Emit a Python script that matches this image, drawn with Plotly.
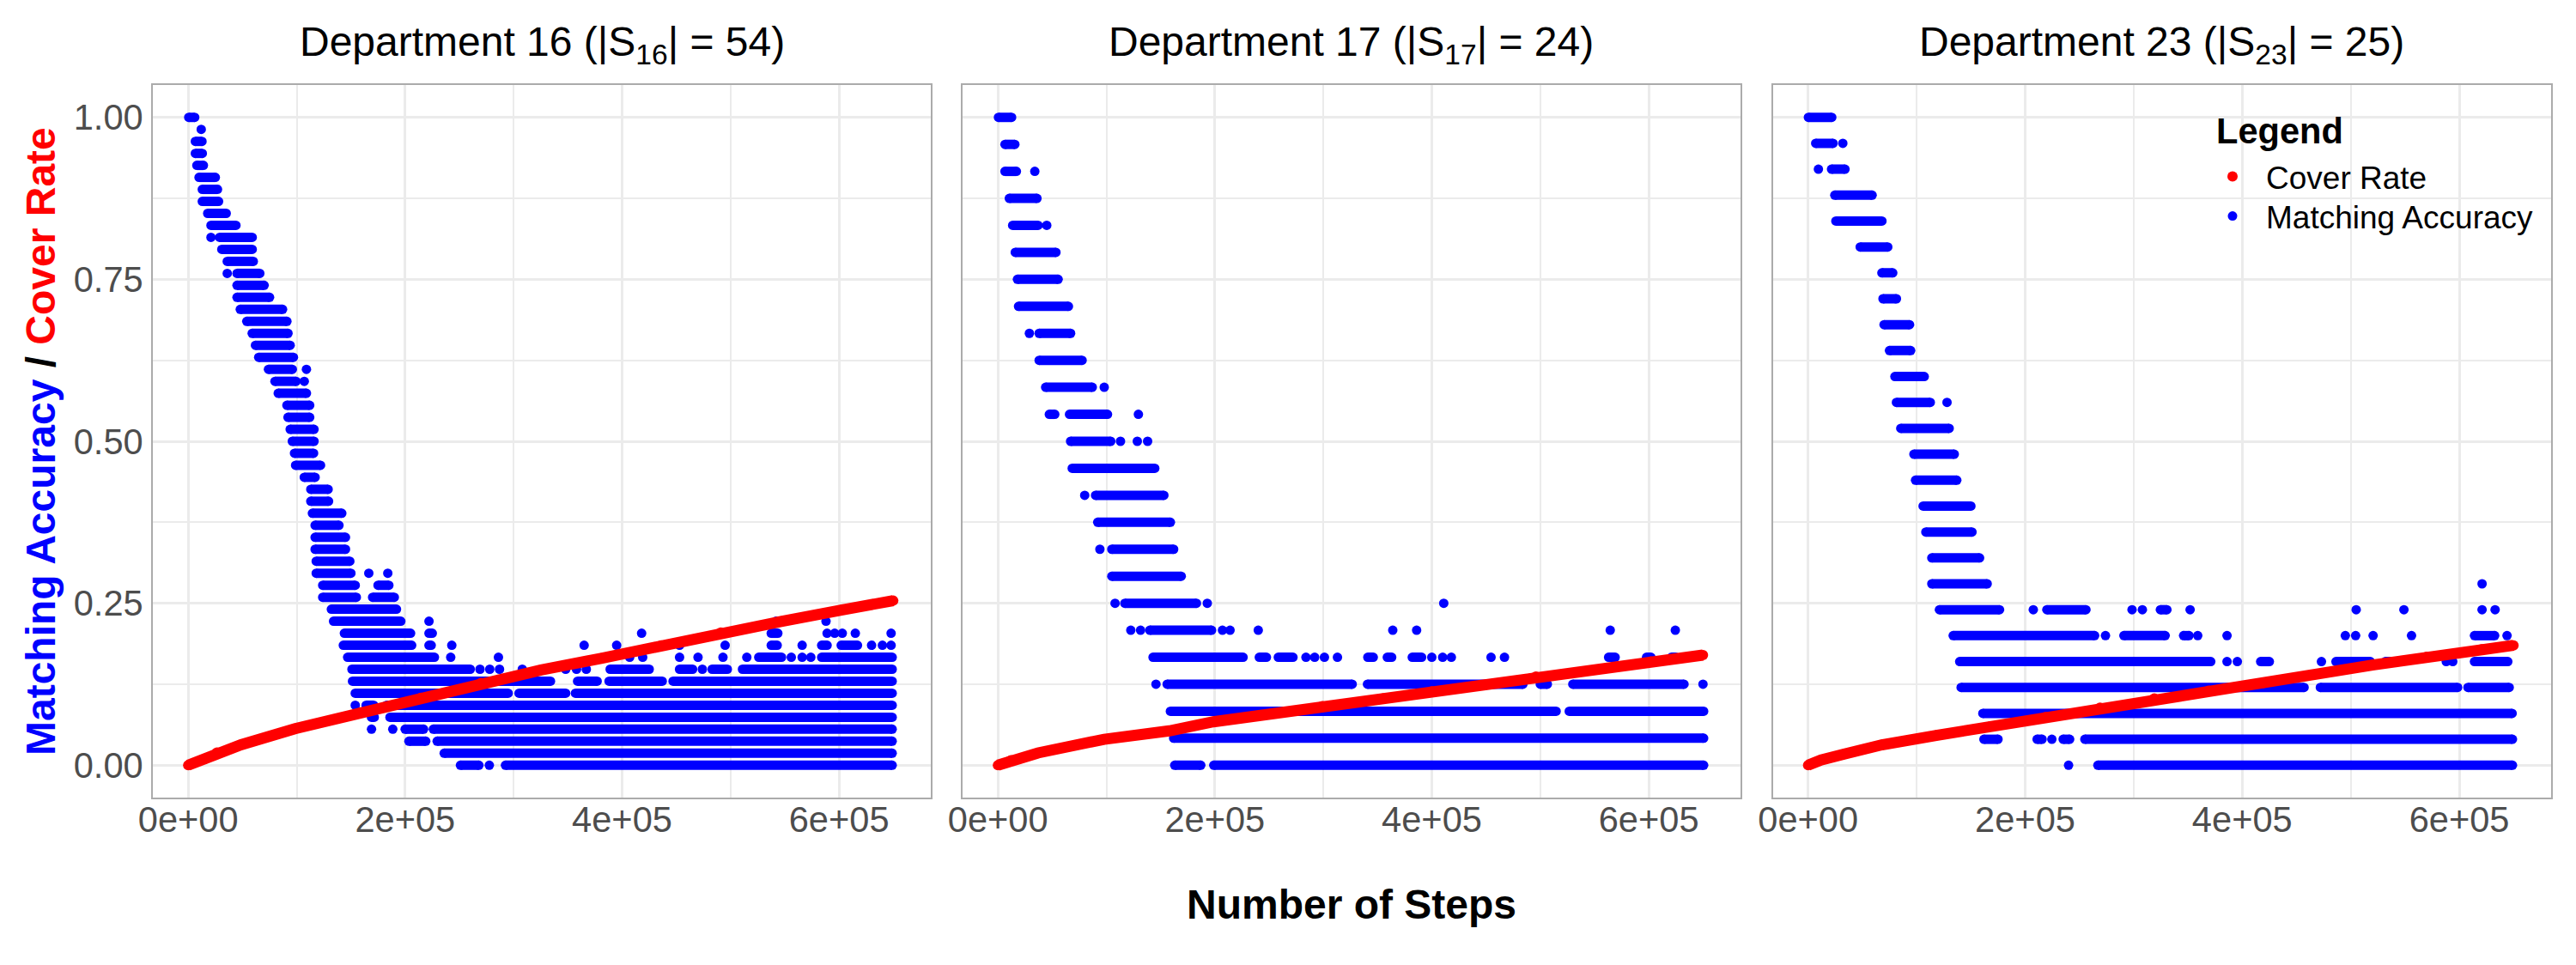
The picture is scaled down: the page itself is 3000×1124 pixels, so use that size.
import plotly.graph_objects as go

# Observed steps are given in thousands. Each row: (correct matches, [runs]),
# a run being (first_x, last_x) of a continuous band or (x,) of an isolated point.
dept16_size = 54
dept16_runs = [
    (54, [(0.5, 6)]), (53, [(12,)]), (52, [(6.6, 12.7)]), (51, [(6.6, 13)]), (50, [(8, 14)]),
    (49, [(10, 25)]), (48, [(13, 27)]), (47, [(13, 28)]), (46, [(18, 35)]), (45, [(21, 44)]),
    (44, [(21,), (29, 59)]), (43, [(31, 59)]), (42, [(36, 60)]), (41, [(36,), (45, 66)]),
    (40, [(45, 70)]), (39, [(45, 75)]), (38, [(48, 87)]), (37, [(54, 91)]), (36, [(59, 92)]),
    (35, [(62, 94)]), (34, [(65, 97)]), (33, [(74, 96), (109,)]), (32, [(80, 99.5), (107,)]),
    (31, [(83, 109)]), (30, [(91, 112)]), (29, [(92, 112)]), (28, [(94, 116)]), (27, [(96, 116)]),
    (26, [(98, 115.6)]), (25, [(99, 122)]), (24, [(107, 117)]), (23, [(113, 129)]),
    (22, [(113, 129.4)]), (21, [(114.5, 141.6)]), (20, [(117, 139)]), (19, [(117, 145)]),
    (18, [(117, 145)]), (17, [(118, 149)]), (16, [(118, 150), (166.5,), (184,)]),
    (15, [(124, 154), (175, 185)]), (14, [(124, 155), (170, 190)]), (13, [(132, 192)]),
    (12, [(134, 196), (222,), (542,), (588,)]),
    (11, [(144, 205), (222, 225), (418,), (537.5, 543.6), (589,), (596,), (603,), (615,), (648,)]),
    (10, [(143, 206), (222, 224), (243,), (365,), (395,), (453,), (495,), (537.5, 543), (566,),
          (584, 589), (602, 617), (630,), (640,), (648,)]),
    (9, [(147, 227), (242,), (286,), (407,), (419,), (453,), (470,), (493,), (515,), (526, 547),
         (556,), (566,), (574,), (584, 649)]),
    (8, [(151, 260), (269,), (278,), (287,), (308,), (348,), (358,), (367,), (389, 425), (453, 465),
         (474,), (483, 497), (511, 649)]),
    (7, [(151.5, 334), (359, 377), (388, 437), (447, 649)]),
    (6, [(154, 295), (305, 348), (357, 649)]),
    (5, [(154,), (164, 171), (183, 649)]),
    (4, [(169, 171.5), (186, 649)]),
    (3, [(169,), (188.6,), (200, 217), (226, 649)]),
    (2, [(203.5, 219), (229.5, 649)]),
    (1, [(236, 649)]),
    (0, [(251, 268), (277.6,), (292.5, 649)]),
]
dept16_cover_x = [0, 15.5, 26.5, 48.7, 98.5, 159, 214.6, 270, 325.3, 380.6, 436, 491, 546.6, 602, 650]
dept16_cover_y = [0, 0.010, 0.0196, 0.0315, 0.0563, 0.0816, 0.104, 0.127, 0.147, 0.165, 0.185, 0.2047, 0.222, 0.2395, 0.254]

dept17_size = 24
dept17_runs = [
    (24, [(0.5, 12.6)]), (23, [(6.5, 15.6)]), (22, [(6.5, 17), (34,)]), (21, [(10.5, 36)]),
    (20, [(13.6, 37), (45,)]), (19, [(16, 53.5)]), (18, [(18, 55.5)]), (17, [(19, 65)]),
    (16, [(29,), (38, 67)]), (15, [(38, 77.6)]), (14, [(44, 87), (98,)]),
    (13, [(47.4, 52.4), (66, 101), (129.5,)]), (12, [(67, 104), (113,), (128.5,), (138,)]),
    (11, [(68.5, 144.6)]), (10, [(80,), (90, 153)]), (9, [(92, 159)]), (8, [(94,), (105, 162)]),
    (7, [(105, 169)]), (6, [(108,), (117, 183), (193,), (411,)]),
    (5, [(122.5,), (131.5,), (140, 197), (207,), (214,), (240,), (364,), (386,), (564.5,), (624.5,)]),
    (4, [(143, 226), (241, 247.5), (258.5, 272), (284,), (292,), (301,), (313,), (341, 346), (359, 363),
         (382, 390.6), (400,), (410,), (418,), (454.6,), (467,), (563, 569), (598, 602), (621, 625)]),
    (3, [(145.7,), (156, 326.6), (340.7, 484), (500, 506.5), (530, 632.5), (650,)]),
    (2, [(159, 514.6), (526.7, 650.6)]),
    (1, [(162, 650.6)]),
    (0, [(163, 187), (199, 650.6)]),
]
dept17_cover_x = [0, 12, 37, 98, 158, 198.6, 239, 299, 355, 400, 450.6, 496, 546, 602, 650]
dept17_cover_y = [0, 0.0075, 0.019, 0.040, 0.053, 0.067, 0.076, 0.091, 0.103, 0.114, 0.1247, 0.137, 0.146, 0.16, 0.17]

dept23_size = 25
dept23_runs = [
    (25, [(0.3, 21.8)]), (24, [(7, 23), (32,)]), (23, [(9.5,), (21.6, 34)]), (22, [(24.6, 59)]),
    (21, [(25.6, 68)]), (20, [(48, 73.4)]), (19, [(68, 78)]), (18, [(69, 81.4)]), (17, [(70, 93.5)]),
    (16, [(75, 94.5)]), (15, [(80, 107)]), (14, [(81.4, 112.6), (128,)]), (13, [(85.4, 130)]),
    (12, [(97.5, 134.7)]), (11, [(99, 137)]), (10, [(106, 150)]), (9, [(108.5, 151)]),
    (8, [(114, 158)]), (7, [(114, 165), (621,)]),
    (6, [(121, 176.4), (207.5,), (220, 256), (298.5,), (308,), (324.6, 330.6), (352,), (505,), (549,),
         (621,), (633,)]),
    (5, [(133.7, 264), (274,), (291, 329), (346, 351), (359,), (386,), (495,), (504.5,), (520.6,), (556,),
         (614, 632.6), (644,)]),
    (4, [(139.7, 371), (386,), (395.5,), (417, 425), (473,), (486.4, 518), (532, 536), (588,), (594,),
         (614, 644.7)]),
    (3, [(141, 457), (472, 598.5), (608, 646)]),
    (2, [(161, 648.7)]),
    (1, [(162, 175), (211, 215.6), (224.6,), (235, 241), (255, 649)]),
    (0, [(240,), (267, 649)]),
]
dept23_cover_x = [0, 12, 32.7, 68, 118, 168, 218.6, 269, 319, 369, 419.6, 470, 520, 570, 620.6, 650]
dept23_cover_y = [0, 0.008, 0.017, 0.0315, 0.046, 0.06, 0.0744, 0.0887, 0.103, 0.115, 0.127, 0.141, 0.1546, 0.1675, 0.179, 0.185]

x_tick_vals = [0, 200000, 400000, 600000]
x_tick_text = ["0e+00", "2e+05", "4e+05", "6e+05"]
y_tick_vals = [0, 0.25, 0.5, 0.75, 1.0]
y_tick_text = ["0.00", "0.25", "0.50", "0.75", "1.00"]
titles = ["Department 16 (|S<sub>16</sub>| = 54)", "Department 17 (|S<sub>17</sub>| = 24)",
          "Department 23 (|S<sub>23</sub>| = 25)"]

W, H = 3000, 1124
FONT = "Liberation Sans"
BLUE, RED = "#0000FF", "#FF0000"
DOT = 11
panels_px = [(178, 1084), (1121, 2027), (2064.5, 2971)]
top_px, bot_px = 99, 929

fig = go.Figure()
depts = [(dept16_size, dept16_runs, dept16_cover_x, dept16_cover_y),
         (dept17_size, dept17_runs, dept17_cover_x, dept17_cover_y),
         (dept23_size, dept23_runs, dept23_cover_x, dept23_cover_y)]

for i, (size, runs, cx, cy) in enumerate(depts):
    xa, ya = f"x{i + 1}", f"y{i + 1}"
    lx, ly, px, py = [], [], [], []
    for hits, row in runs:
        acc = hits / size
        for run in row:
            for v in run:
                px.append(v * 1000)
                py.append(acc)
            if len(run) == 2:
                lx += [run[0] * 1000, run[1] * 1000, None]
                ly += [acc, acc, None]
    last = i == 2
    fig.add_trace(go.Scatter(x=lx, y=ly, mode="lines", line=dict(color=BLUE, width=DOT),
                             xaxis=xa, yaxis=ya, showlegend=False, hoverinfo="skip"))
    fig.add_trace(go.Scatter(x=px, y=py, mode="markers", marker=dict(color=BLUE, size=DOT),
                             name="Matching Accuracy", xaxis=xa, yaxis=ya, showlegend=last, legend="legend2"))
    cx_steps = [v * 1000 for v in cx]
    fig.add_trace(go.Scatter(x=cx_steps, y=cy, mode="lines", line=dict(color=RED, width=13),
                             xaxis=xa, yaxis=ya, showlegend=False, hoverinfo="skip"))
    fig.add_trace(go.Scatter(x=cx_steps, y=cy, mode="markers", marker=dict(color=RED, size=12),
                             name="Cover Rate", xaxis=xa, yaxis=ya, showlegend=last, legend="legend"))

grid = "#EBEBEB"
border = "#ABABAB"
tick_font = dict(family=FONT, size=41.6, color="#4D4D4D")
legend_common = dict(x=2561 / W, xanchor="left", yanchor="top", bgcolor="rgba(0,0,0,0)",
                     font=dict(family=FONT, size=37, color="black"), itemsizing="trace", itemwidth=68)
layout = dict(
    width=W, height=H, autosize=False, margin=dict(l=0, r=0, t=0, b=0, autoexpand=False),
    paper_bgcolor="white", plot_bgcolor="white", font=dict(family=FONT),
    legend=dict(y=1 - 175 / H, **legend_common),
    legend2=dict(y=1 - 221 / H, **legend_common),
)
for i, (l, r) in enumerate(panels_px):
    suffix = "" if i == 0 else str(i + 1)
    layout[f"xaxis{suffix}"] = dict(
        domain=[l / W, r / W], range=[-32600, 684600], anchor=f"y{i + 1}",
        tickmode="array", tickvals=x_tick_vals, ticktext=x_tick_text, tickfont=tick_font, ticks="",
        showgrid=True, gridcolor=grid, gridwidth=3.2,
        minor=dict(showgrid=True, dtick=100000, tick0=0, gridcolor=grid, gridwidth=1.8, ticks=""),
        showline=True, linecolor=border, linewidth=2, mirror=True, zeroline=False, ticklabelstandoff=-12)
    layout[f"yaxis{suffix}"] = dict(
        domain=[1 - bot_px / H, 1 - top_px / H], range=[-0.05, 1.05], anchor=f"x{i + 1}",
        tickmode="array", tickvals=y_tick_vals, ticktext=y_tick_text,
        tickfont=tick_font, ticks="", showticklabels=i == 0,
        showgrid=True, gridcolor=grid, gridwidth=3.2,
        minor=dict(showgrid=True, dtick=0.125, tick0=0, gridcolor=grid, gridwidth=1.8, ticks=""),
        showline=True, linecolor=border, linewidth=2, mirror=True, zeroline=False, ticklabelstandoff=1)
fig.update_layout(**layout)

for (l, r), t in zip(panels_px, titles):
    fig.add_annotation(text=t, x=(l + r) / 2 / W, y=1 - 52 / H, xref="paper", yref="paper", showarrow=False,
                       xanchor="center", yanchor="middle", font=dict(family=FONT, size=48, color="black"))
fig.add_annotation(text="<b>Legend</b>", x=2579 / W, y=1 - 152 / H, xref="paper", yref="paper", showarrow=False,
                   xanchor="left", yanchor="middle", font=dict(family=FONT, size=41.6, color="black"))
fig.add_annotation(text="<b>Number of Steps</b>", x=1574 / W, y=1 - 1053 / H, xref="paper", yref="paper",
                   showarrow=False, xanchor="center", yanchor="middle", font=dict(family=FONT, size=48, color="black"))
fig.add_annotation(
    text=f'<b><span style="color:{BLUE}">Matching Accuracy</span> / <span style="color:{RED}">Cover Rate</span></b>',
    x=47 / W, y=1 - 514 / H, xref="paper", yref="paper", showarrow=False, textangle=-90,
    xanchor="center", yanchor="middle", font=dict(family=FONT, size=48, color="black"))

fig.write_html("out.html", post_script="document.body.style.margin='0';", config=dict(displayModeBar=False))
